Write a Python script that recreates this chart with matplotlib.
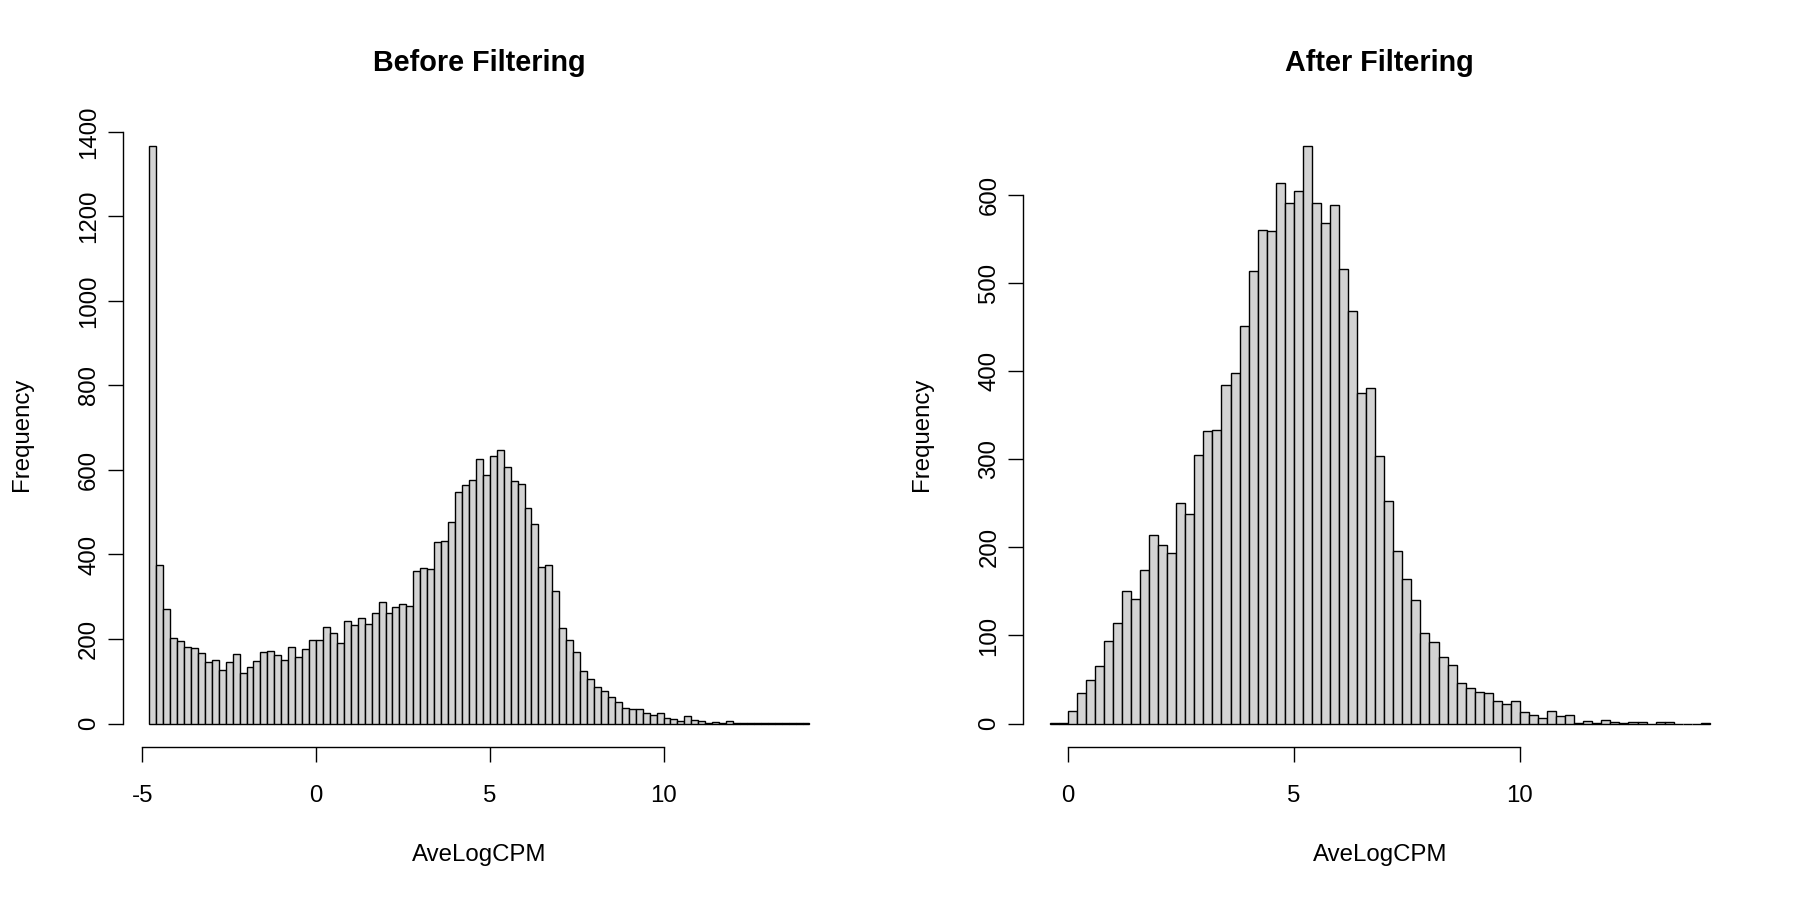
import numpy as np
import matplotlib
matplotlib.use("Agg")
import matplotlib.pyplot as plt

# --- Data (bin width 0.2) ---
BIN_WIDTH = 0.2

before_start = -4.8
before_counts = [
    1367, 374, 271, 203, 196, 182, 179, 168, 145, 150,
    127, 146, 164, 120, 134, 149, 170, 171, 163, 151,
    182, 158, 176, 198, 198, 229, 214, 190, 243, 234,
    250, 235, 262, 288, 261, 276, 284, 277, 362, 369,
    366, 429, 433, 478, 547, 565, 577, 626, 589, 632,
    648, 607, 574, 568, 509, 472, 371, 374, 314, 227,
    198, 170, 125, 106, 87, 77, 62, 51, 37, 35,
    35, 25, 20, 25, 13, 11, 5, 17, 9, 7,
    2, 3, 2, 5, 2, 2, 2, 1, 1, 2,
    2, 1, 1, 1, 2,
]

after_start = -0.4
after_counts = [
    1, 1, 14, 35, 49, 65, 94, 114, 151, 141,
    174, 214, 203, 194, 251, 238, 305, 332, 333, 385,
    398, 451, 514, 561, 559, 614, 591, 605, 656, 591,
    569, 589, 516, 469, 375, 381, 304, 253, 196, 164,
    140, 103, 92, 76, 67, 46, 40, 36, 35, 26,
    22, 26, 13, 10, 6, 14, 8, 10, 1, 3,
    1, 4, 2, 1, 2, 2, 0, 2, 2, 0,
    0, 0, 1,
]

before_yticks = [0, 200, 400, 600, 800, 1000, 1200, 1400]
before_xticks = [-5, 0, 5, 10]
after_yticks = [0, 100, 200, 300, 400, 500, 600]
after_xticks = [0, 5, 10]

FONT = "Liberation Sans"
plt.rcParams["font.family"] = [FONT, "DejaVu Sans"]


def r_hist(ax, start, counts, xticks, yticks, title):
    counts = np.asarray(counts)
    edges = start + BIN_WIDTH * np.arange(len(counts) + 1)
    ax.bar(edges[:-1], counts, width=BIN_WIDTH, align="edge",
           color="#d3d3d3", edgecolor="black", linewidth=1.0)

    # R style 4% padding around the data range
    xr = edges[-1] - edges[0]
    ax.set_xlim(edges[0] - 0.04 * xr, edges[-1] + 0.04 * xr)
    ymax = counts.max()
    ax.set_ylim(-0.04 * ymax, 1.04 * ymax)

    for s in ("top", "right"):
        ax.spines[s].set_visible(False)
    ax.spines["left"].set_bounds(yticks[0], yticks[-1])
    ax.spines["bottom"].set_bounds(xticks[0], xticks[-1])
    for s in ("left", "bottom"):
        ax.spines[s].set_linewidth(1.0)

    ax.set_xticks(xticks)
    ax.set_yticks(yticks)
    ax.set_xticklabels([str(t) for t in xticks])
    ax.set_yticklabels([str(t) for t in yticks], rotation=90, va="center")
    ax.tick_params(axis="both", direction="out", length=10.8, width=1.0,
                   labelsize=17.3)
    ax.tick_params(axis="x", pad=16.5)
    ax.tick_params(axis="y", pad=5.6)

    ax.set_xlabel("AveLogCPM", fontsize=17.3, va="baseline")
    ax.xaxis.set_label_coords(0.5, -0.1834)
    ax.set_ylabel("Frequency", fontsize=17.3, va="center")
    ax.yaxis.set_label_coords(-0.142, 0.5)

    ax.set_title(title, fontsize=20.7, fontweight="bold", y=1.0959,
                 va="center", pad=0)


fig = plt.figure(figsize=(18, 9), dpi=100)
ax1 = fig.add_axes([0.06822, 0.17044, 0.39617, 0.69311])
ax2 = fig.add_axes([0.56844, 0.17044, 0.39617, 0.69311])

r_hist(ax1, before_start, before_counts, before_xticks, before_yticks,
       "Before Filtering")
r_hist(ax2, after_start, after_counts, after_xticks, after_yticks,
       "After Filtering")

fig.savefig("out.png", dpi=100, facecolor="white")
